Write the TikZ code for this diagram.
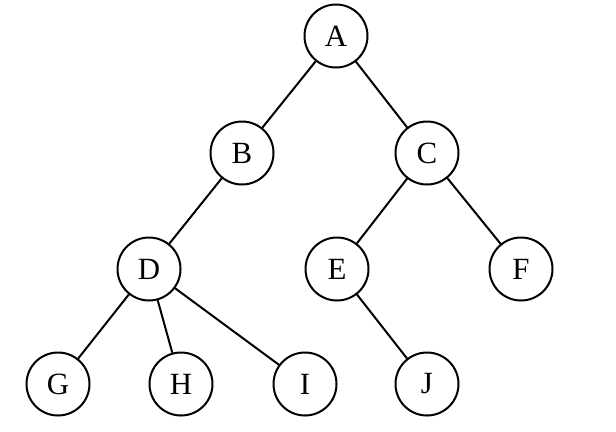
\documentclass[tikz,border=0pt]{standalone}
\usepackage{fontspec}
\setmainfont{Liberation Serif}
\begin{document}
\begin{tikzpicture}[x=1bp,y=-1bp,
  vtx/.style={circle,draw,line width=2bp,minimum size=63bp,inner sep=0pt,font=\fontsize{31}{34}\selectfont},
  edge/.style={line width=2bp}]
\useasboundingbox[fill=white] (0,0) rectangle (616,431);
\node[vtx] (A) at (336,36) {A};
\node[vtx] (B) at (242,153) {B};
\node[vtx] (C) at (427,153) {C};
\node[vtx] (D) at (149,269) {D};
\node[vtx] (E) at (337,269) {E};
\node[vtx] (F) at (521,269) {F};
\node[vtx] (G) at (58,384) {G};
\node[vtx] (H) at (181,384) {H};
\node[vtx] (I) at (305,384) {I};
\node[vtx] (J) at (427,384) {J};
\draw[edge] (A) -- (B);
\draw[edge] (A) -- (C);
\draw[edge] (B) -- (D);
\draw[edge] (C) -- (E);
\draw[edge] (C) -- (F);
\draw[edge] (D) -- (G);
\draw[edge] (D) -- (H);
\draw[edge] (D) -- (I);
\draw[edge] (E) -- (J);
\end{tikzpicture}
\end{document}
